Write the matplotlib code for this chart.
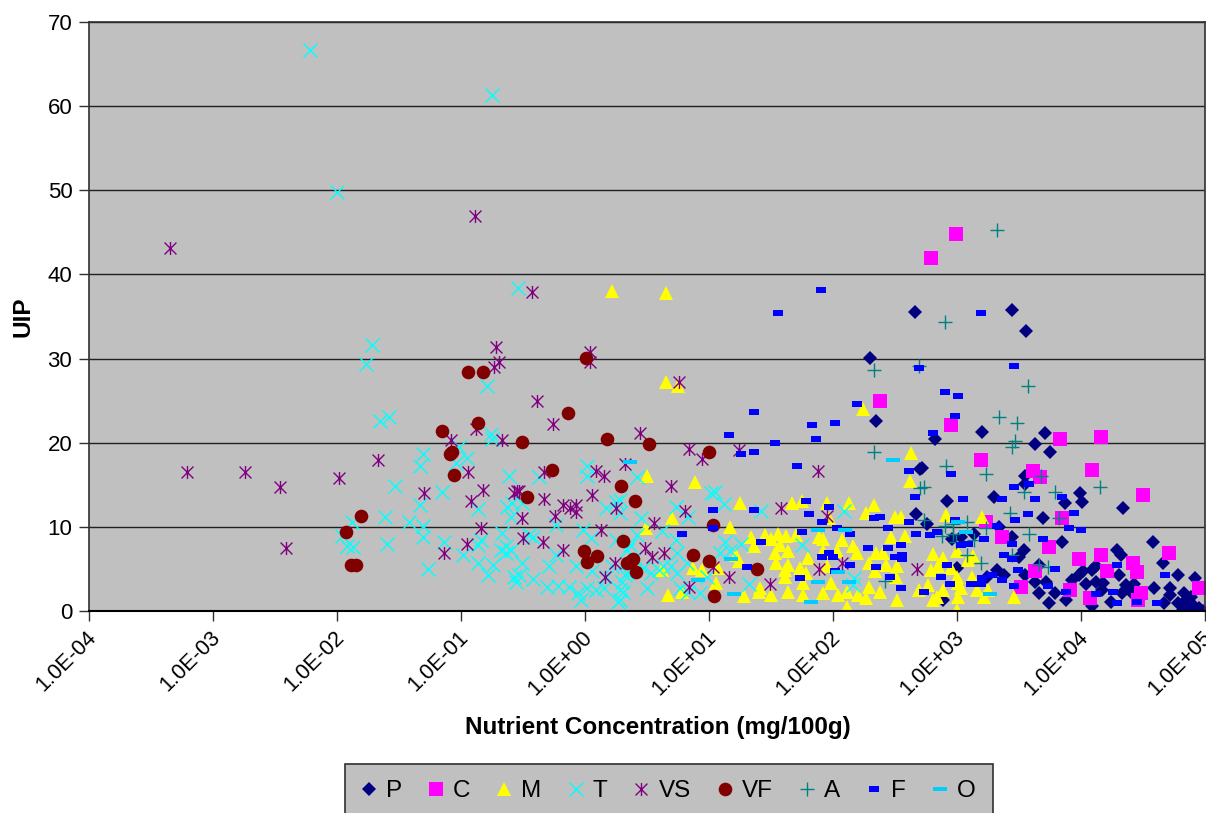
import numpy as np
import matplotlib
matplotlib.use("Agg")
import matplotlib.pyplot as plt
from matplotlib.path import Path
from matplotlib.patches import Rectangle
from matplotlib.transforms import ScaledTranslation

plt.rcParams['font.family'] = ['Liberation Sans', 'DejaVu Sans']

# Values: (log10 of nutrient concentration, UIP)
P = [(2.66,35.5),(2.3,30.1),(2.35,22.6),(3.44,35.8),(3.56,33.3),(2.67,11.5),(2.7,16.9),(2.82,20.4),(3.2,21.3),(3.71,21.1),(3.63,19.8),(3.75,18.9),(2.72,17),(3.55,16.1),(3.55,15.1),(2.92,13.1),(3.3,13.6),(3.87,12.8),(3.99,14),(4.01,12.9),(4.34,12.2),(2.76,10.3),(3.69,11),(3.34,10),(3.14,9.2),(2.96,8.6),(3.03,8.8),(3.44,8.8),(3.54,7.2),(3.5,6.4),(3.85,8.2),(4.58,8.2),(4.29,7.3),(4.32,6.6),(4.66,5.7),(4.78,4.3),(4.92,3.9),(4.31,4.3),(4.59,2.7),(4.72,2.7),(4.72,1.9),(4.83,2.1),(4.89,1.7),(3,5.1),(3.32,4.9),(3.24,4.1),(3.38,4.3),(3.55,4.3),(3.63,3.5),(3.66,5.5),(3.72,3.5),(3.66,2.1),(3.79,2.1),(3.74,.9),(3.88,1.3),(2.89,1.3),(3.93,3.7),(3.98,4.3),(4.02,4.7),(4.09,4.9),(4.12,5.3),(4.04,3.2),(4.12,3.4),(4.18,3.3),(4.17,2.5),(4.24,1.1),(4.09,.6),(4.33,2.1),(4.36,3.1),(4.43,3.2),(4.4,2.3),(4.67,.9),(4.78,.9),(4.83,.4),(4.91,.6),(4.98,0.0),(4.85,1.3),(4.87,.9),(4.82,0.1),(4.86,.2),(4.95,.4)]
C = [(2.79,42),(2.99,44.8),(2.38,24.9),(2.95,22.1),(3.83,20.4),(4.16,20.7),(3.19,17.9),(3.61,16.6),(3.67,15.9),(4.09,16.8),(4.5,13.8),(3.23,10.6),(3.85,11),(3.36,8.8),(3.74,7.6),(3.98,6.2),(4.16,6.6),(4.42,5.7),(4.45,4.6),(4.71,6.9),(4.21,4.8),(3.63,4.8),(3.52,2.9),(3.91,2.5),(4.07,1.5),(4.48,2.1),(4.46,1.3),(4.95,2.7)]
M = [(.22,38),(.65,37.8),(.65,27.2),(.75,26.7),(2.24,24),(.5,16),(.89,15.3),(.7,11.1),(.49,9.9),(.62,4.9),(.67,1.9),(.78,2.2),(.87,5.1),(.94,4.9),(1.06,3.3),(1.07,5.1),(1.17,10),(1.25,12.8),(1.22,6.7),(1.24,5.9),(1.34,8.8),(1.36,7.7),(1.45,9),(1.5,8.6),(1.56,9.2),(1.62,8.9),(1.7,9),(1.57,7.9),(1.53,6.9),(1.64,7.1),(1.54,5.7),(1.64,5.5),(1.61,4.9),(1.61,4.1),(1.73,5.1),(1.78,4.5),(1.8,6.3),(1.89,8.8),(1.92,8.6),(2.07,8.4),(2.16,7.7),(2.19,6.9),(2.03,7.1),(1.92,7.1),(1.95,5.3),(1.28,1.8),(1.4,2.3),(1.41,2.7),(1.5,1.9),(1.64,2.2),(1.76,1.9),(1.76,3.3),(1.92,2.1),(1.98,3.3),(2.04,1.9),(2.11,2.3),(2.11,.5),(2.2,1.9),(2.27,1.5),(2.29,2.9),(2.38,2.3),(2.52,1.3),(1.67,12.8),(1.75,13.1),(1.95,12.8),(2.13,12.8),(2.27,11.6),(2.33,12.6),(2.5,11.2),(2.55,11.2),(1.97,11),(2.47,8.8),(2.58,8.9),(2.35,6.9),(2.4,6.9),(2.29,5.7),(2.34,4.7),(2.43,5.5),(2.52,5.3),(2.51,4.1),(2.63,18.8),(2.62,15.5),(2.69,2.5),(2.91,11.4),(3.2,11.2),(2.81,6.8),(2.89,6.3),(2.85,5.4),(2.79,4.9),(2.95,5.1),(3.0,7.1),(3.09,6.1),(3.13,6.5),(3.12,4.1),(3,4.1),(2.77,3.1),(2.89,2.5),(2.81,1.3),(2.84,1.7),(3.01,1.7),(3.03,2.7),(3.0,.1),(3.16,2.5),(3.22,1.7),(3.25,2.5),(3.46,1.7),(3.01,3.3)]
T = [(-2.22,66.7),(-2.0,49.8),(-1.72,31.6),(-1.77,29.3),(-.75,61.3),(-.54,38.4),(-.79,26.7),(-.76,21.0),(-1.65,22.6),(-1.58,23.0),(-.75,20.4),(-1.02,19.5),(-1.31,18.6),(-1.33,17.2),(-.95,18.2),(-1.04,17.6),(-1.53,14.9),(-1.15,14.2),(-1.33,12.6),(-.61,16.1),(-.37,15.9),(.02,17.2),(.02,16.1),(-.86,12.1),(-1.61,11.2),(-1.88,10.6),(-1.42,10.6),(-1.31,10.1),(-1.96,8.9),(-1.92,7.7),(-1.87,7.6),(-1.6,8.0),(-1.31,8.8),(-1.14,8.2),(-.98,6.6),(-.84,8.4),(-.86,7.8),(-.67,9.3),(-.63,12.4),(-.59,12.8),(-.51,12.8),(-.6,11.2),(-1.27,5.0),(-.86,5.7),(-.78,4.3),(-.74,5.5),(-.68,7.3),(-.64,6.9),(-.6,7.3),(-.51,5.7),(-.53,4.3),(-.56,3.4),(-.42,3.8),(-.31,2.9),(-.22,3.0),(-.13,2.9),(-.06,2.1),(-.03,1.3),(.02,2.7),(.09,2.5),(.15,2.7),(.28,2.5),(.27,1.1),(.06,4.7),(.17,4.1),(.22,5.3),(.32,4.3),(-.07,5.3),(-.29,5.4),(-.23,6.7),(-.42,8.8),(-.23,10.2),(-.02,9.6),(.05,8.7),(.17,12.2),(.25,13.0),(.28,11.6),(.34,7.3),(.25,8.4),(.3,3.5),(-.45,9.0),(-.64,7.7),(-.57,4.1),(.28,13.2),(.45,11.1),(.42,15.9),(.62,9.5),(.73,12.4),(.83,11.2),(1.05,14.2),(1.02,14.0),(1.12,12.7),(1.42,11.9),(1.13,8.2),(1.26,8.0),(1.09,6.9),(1.17,7.1),(.42,9.0),(.73,8.4),(.74,6.9),(.63,5.3),(.53,4.5),(.74,4.5),(.5,2.7),(.31,2.3),(.77,2.7),(.93,2.1),(.82,5.7),(.98,4.1),(1.32,3.2),(1.75,7.8),(2.17,3.9),(2.16,3.1),(2.09,11.9),(.36,7.8),(.4,6.3),(.47,5.1),(.6,4.9),(.69,5.3),(.83,2.3),(.28,1.3),(.34,4.5)]
VS = [(-3.35,43.1),(-3.21,16.5),(-2.74,16.5),(-2.46,14.7),(-2.41,7.5),(-1.98,15.8),(-1.67,18.0),(-1.3,14.0),(-1.14,6.9),(-1.08,20.3),(-.94,16.5),(-.92,13.1),(-.95,8.0),(-.84,9.9),(-.82,14.4),(-.89,46.9),(-.88,21.6),(-.72,31.4),(-.73,29.0),(-.69,29.6),(-.67,20.3),(-.43,37.9),(-.39,25.0),(-.26,22.2),(-.33,16.5),(-.55,14.3),(-.53,14.3),(-.51,11.0),(-.33,13.3),(-.34,8.2),(-.18,7.3),(.04,30.8),(.04,29.6),(-.57,14),(-.5,8.7),(-.24,11.3),(-.18,12.6),(-.12,12.2),(-.07,12.6),(-.07,11.8),(.06,13.8),(.09,16.6),(.15,16),(.13,9.6),(.25,12.2),(.24,5.7),(.16,4.1),(.32,17.5),(.44,21.1),(.69,14.9),(.81,11.9),(.56,10.5),(.48,7.5),(.54,6.4),(.64,6.9),(.84,2.8),(1.03,5.2),(1.16,4.1),(1.49,3.2),(.84,19.3),(.94,18.1),(1.24,19.1),(1.58,12.2),(1.88,16.6),(1.95,11.3),(1.89,5),(2.07,5.7),(2.68,5),(.76,27.2)]
VF = [(-1.93,9.4),(-1.89,5.5),(-1.85,5.5),(-1.81,11.3),(-1.15,21.4),(-1.09,18.6),(-1.07,18.9),(-1.06,16.2),(-.94,28.4),(-.82,28.4),(-.86,22.3),(-.51,20.1),(-.47,13.6),(-.27,16.8),(-.14,23.5),(-.01,7.1),(.01,30.1),(.02,5.8),(.1,6.5),(.18,20.5),(.29,14.9),(.31,8.3),(.34,5.7),(.37,6.0),(.39,6.2),(.4,13.1),(.41,4.6),(.52,19.9),(.87,6.7),(1,18.9),(1,6),(1.03,10.2),(1.04,1.8),(1.39,5)]
A = [(3.32,45.3),(2.9,34.4),(3.57,26.7),(2.33,28.6),(2.69,29.1),(3.34,23),(3.48,22.3),(3.47,20.2),(3.44,19.5),(2.91,17.2),(3.23,16.3),(3.68,16.1),(2.73,14.7),(3.54,14.2),(3.79,14.2),(4.15,14.7),(3.43,11.7),(3.82,11),(2.73,10.8),(3.08,10.6),(2.97,10.3),(2.9,10.1),(3.23,9.9),(3.58,9.2),(2.88,8.9),(2.97,9.2),(2.99,8.2),(3.14,8.4),(3.08,6.6),(3.19,5.7),(3.44,6.6),(3.66,5.5),(3.73,5.2),(2.33,18.9),(2.42,3.6),(2.7,14.6)]
F = [(1.56,35.4),(1.9,38.1),(3.19,35.4),(3.46,29.1),(2.69,28.9),(2.9,26),(3.01,25.6),(2.19,24.6),(1.36,23.7),(1.83,22.1),(2.02,22.3),(1.16,20.9),(1.86,20.5),(1.53,20),(1.36,18.9),(1.26,18.6),(1.71,17.2),(2.61,16.6),(2.66,13.6),(1.78,13.1),(1.97,12.4),(1.03,12),(1.36,12),(1.81,11.5),(1.91,10.6),(2.33,11),(2.38,11.2),(2.61,10.6),(1.03,9.9),(2.03,9.9),(2.44,9.9),(.78,9.2),(1.75,9.4),(2.14,9.2),(2.67,9.2),(1.42,8.2),(2.28,7.5),(2.44,7.5),(2.55,7.8),(1.97,6.9),(1.91,6.4),(2,6.4),(2.5,6.4),(2.56,6.7),(2.56,6.2),(1.31,5.2),(2.14,5.5),(2.35,5.2),(2.02,4.8),(1.73,3.9),(2.46,4.1),(2.55,2.7),(2.98,23.2),(2.81,21.2),(2.95,16.3),(3.05,13.3),(3.36,13.3),(3.46,14.7),(3.58,15.1),(3.63,13.3),(3.85,13.6),(3.47,10.8),(3.57,11.5),(3.94,11.7),(2.98,10.8),(3.32,10.1),(3.9,9.9),(4,9.6),(2.78,9),(2.84,9.4),(3.22,8.5),(3.69,8.5),(3.44,8),(3.03,7.8),(3.09,8),(3.38,6.6),(3.44,6.2),(3.49,4.9),(3.79,5),(2.92,5.5),(2.87,4.1),(3.28,4.3),(3.2,3.9),(3.36,3.7),(2.94,3.2),(3.11,3.2),(3.19,3.2),(3.46,3),(3.73,3),(2.73,2.2),(3.88,2.2),(4.12,2),(4.26,2.2),(4.29,5.5),(4.68,4.3),(4.29,.9),(4.45,1.1),(4.61,.9)]
O = [(.36,17.7),(2.48,17.9),(1.88,9.6),(2.1,9.6),(1.18,6.2),(.91,3.7),(1.2,2),(2.04,4.6),(1.88,3.4),(2.13,3.4),(1.82,1.1),(3.01,10.6),(3.07,9.4),(3.27,2)]

xticklabels = ['1.0E-04','1.0E-03','1.0E-02','1.0E-01','1.0E+00','1.0E+01','1.0E+02','1.0E+03','1.0E+04','1.0E+05']
yticks = [0,10,20,30,40,50,60,70]

star = Path([(-.5,-.5),(.5,.5),(-.5,.5),(.5,-.5),(0,-.55),(0,.55)],[1,2,1,2,1,2])
fdash = Path([(-.5,-.3),(.5,-.3),(.5,.3),(-.5,.3),(-.5,-.3)],closed=True)
odash = Path([(-.5,-.17),(.5,-.17),(.5,.17),(-.5,.17),(-.5,-.17)],closed=True)

series = [
 ('P',P,'D','#000080',7,0),('C',C,'s','#FF00FF',9.4,0),('M',M,'^','#FFFF00',10,0),
 ('T',T,'x','#00FFFF',9.4,1.0),('VS',VS,star,'#800080',9.4,1.0),('VF',VF,'o','#800000',9.8,0),
 ('A',A,'+','#008080',10,1.0),('F',F,fdash,'#0000FF',7,0),('O',O,odash,'#00CCFF',10,0)]

fig = plt.figure(figsize=(12.06,8.13),dpi=100)
ax = fig.add_axes([89/1206,1-611/813,(1205-89)/1206,(611-22)/813])
ax.set_facecolor('#C0C0C0')
for name,d,m,c,s,lw in series:
    a=np.array(d)
    ax.plot(10.0**a[:,0],a[:,1],ls='none',marker=m,color=c,ms=s,mew=lw,
            mec=c,label=name,zorder=3)
ax.set_xscale('log')
ax.set_xlim(1e-4,1e5)
ax.set_ylim(0,70)
ax.set_yticks(yticks)
ax.set_xticks([10.0**i for i in range(-4,6)])
ax.set_xticklabels(xticklabels,rotation=45,ha='right',rotation_mode='anchor',fontsize=15.7)
ax.minorticks_off()
ax.tick_params(axis='y',labelsize=16,length=7,width=1,pad=5,color='#303030')
ax.tick_params(axis='x',length=7,width=1,pad=4.5,color='#303030')
shift = ScaledTranslation(-3/100,0,fig.dpi_scale_trans)
for lab in ax.get_xticklabels():
    lab.set_transform(lab.get_transform()+shift)
ax.yaxis.grid(True,color='#202020',lw=1)
ax.set_axisbelow(True)
for s in ax.spines.values():
    s.set_color('#303030'); s.set_linewidth(1.2); s.set_zorder(4)
ax.spines['bottom'].set_color('black'); ax.spines['bottom'].set_linewidth(1.5)
ax.set_xlabel('Nutrient Concentration (mg/100g)',fontsize=17.5,fontweight='bold')
ax.set_ylabel('UIP',fontsize=17.5,fontweight='bold')
ax.xaxis.set_label_coords((658-89)/1116,-0.179)
ax.yaxis.set_label_coords(-0.0485,0.5)

fig.add_artist(Rectangle((345/1206,-8/813),648/1206,57/813,transform=fig.transFigure,
                         fc='#C0C0C0',ec='#303030',lw=1.2))
leg = fig.legend(loc='center',bbox_to_anchor=(666/1206,1-791/813),ncol=9,fontsize=17.5,
                 frameon=False,markerscale=1.0,handlelength=1.0,handletextpad=0.2,
                 columnspacing=0.9,borderpad=0,borderaxespad=0)
fig.savefig('out.png',dpi=100,facecolor='white')
